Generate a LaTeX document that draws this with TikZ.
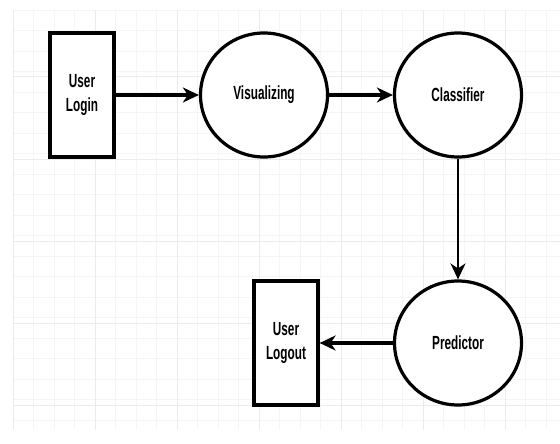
\documentclass[tikz,border=0pt]{standalone}
\usepackage{fontspec}
\setmainfont[FakeStretch=0.66,BoldFeatures={FakeStretch=0.62}]{Liberation Sans}
\usetikzlibrary{arrows.meta,shapes.geometric}
\begin{document}
\begin{tikzpicture}[x=1pt,y=-1pt,
  gridminor/.style={draw=black!4,line width=0.8pt},
  gridmajor/.style={draw=black!8,line width=1pt},
  entity/.style={draw=black,line width=3.2pt,fill=white,minimum width=64pt,minimum height=124pt,inner sep=0pt,align=center,font=\fontsize{19}{24}\selectfont\bfseries},
  process/.style={draw=black,line width=3.2pt,fill=white,ellipse,minimum width=127pt,minimum height=124pt,inner sep=0pt,font=\fontsize{19}{24}\selectfont\bfseries},
  flow/.style={line width=3.2pt,-{Stealth[length=16pt,width=15pt,inset=5pt]}}]
\useasboundingbox (0,0) rectangle (560,444);
\fill[white] (0,0) rectangle (560,444);
% grid
\foreach \x in {13,33.5,...,560} \draw[gridminor] (\x,10) -- (\x,430);
\foreach \y in {10,30.5,...,430} \draw[gridminor] (13,\y) -- (560,\y);
\foreach \y in {77,159,241,323,405} \draw[gridmajor] (13,\y) -- (560,\y);
\foreach \x in {13,95,177,259,341,423,505} \draw[gridmajor] (\x,10) -- (\x,430);
% nodes
\node[entity] (login) at (82,95) {User\\Login};
\node[process] (vis) at (264,95) {Visualizing};
\node[process] (cls) at (458,95) {Classifier};
\node[process] (pred) at (458,343) {Predictor};
\node[entity] (logout) at (286,343) {User\\Logout};
% connectors
\draw[flow] (login) -- (vis);
\draw[flow] (vis) -- (cls);
\draw[flow,line width=2pt] (cls) -- (pred);
\draw[flow] (pred) -- (logout);
\end{tikzpicture}
\end{document}
